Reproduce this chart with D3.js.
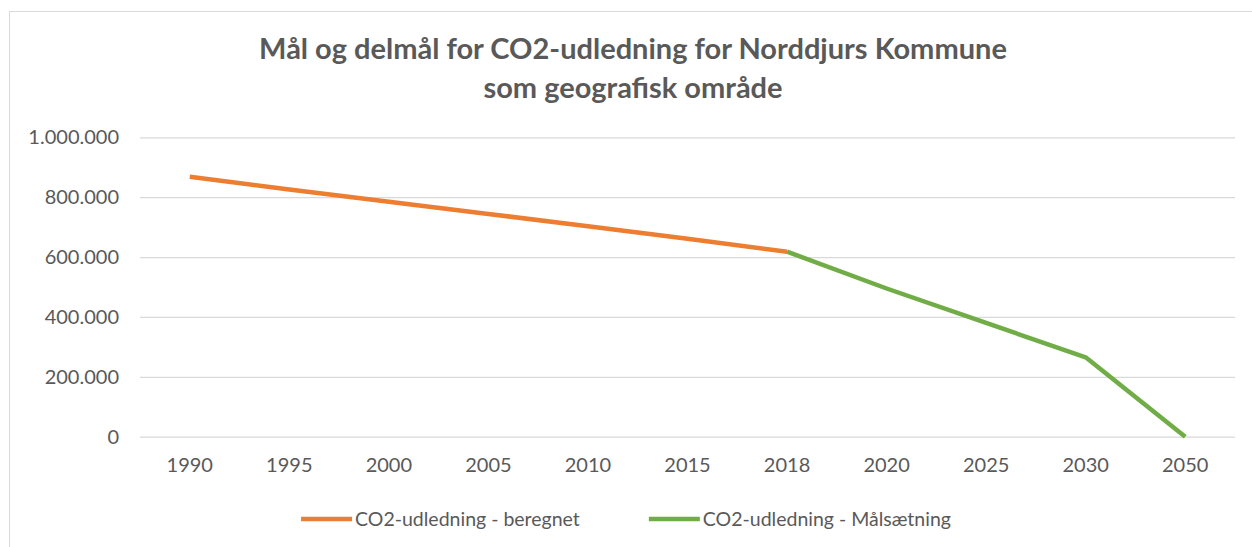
<!DOCTYPE html>
<html>
<head>
<meta charset="utf-8">
<script src="https://cdn.jsdelivr.net/npm/d3@7"></script>
<style>
  body { margin: 0; background: #fff; }
  svg { display: block; font-family: Lato, "Open Sans", sans-serif; }
</style>
</head>
<body>
<script>
// data
const years = ["1990", "1995", "2000", "2005", "2010", "2015", "2018", "2020", "2025", "2030", "2050"];
const beregnet = [868000, 826000, 785000, 744000, 703000, 661000, 618000, null, null, null, null];
const maalsaetning = [null, null, null, null, null, null, 618000, 495000, 380000, 265000, 0];
const yTicks = [0, 200000, 400000, 600000, 800000, 1000000];
const titleLines = ["Mål og delmål for CO2-udledning for Norddjurs Kommune", "som geografisk område"];
const seriesNames = ["CO2-udledning - beregnet", "CO2-udledning - Målsætning"];

const W = 1252, H = 547;
const plotLeft = 140, plotRight = 1235, plotTop = 137.3, plotBottom = 436.7;

let svg = d3.select("body").append("svg")
    .attr("width", W)
    .attr("height", H);

// chart frame (only left and top edges are inside the picture)
svg.append("rect")
    .attr("x", 9.5).attr("y", 11.5)
    .attr("width", 1300).attr("height", 600)
    .attr("fill", "none")
    .attr("stroke", "#d9d9d9");

// title
svg.append("text")
    .attr("text-anchor", "middle")
    .attr("font-weight", "bold")
    .attr("font-size", 29)
    .attr("fill", "#595959")
    .selectAll("tspan")
    .data(titleLines)
    .enter()
    .append("tspan")
    .attr("x", 633)
    .attr("y", (d, i) => 59 + i * 39)
    .text(d => d);

let x = d3.scaleBand().domain(years).range([plotLeft, plotRight]);
let y = d3.scaleLinear().domain([0, 1000000]).range([plotBottom, plotTop]);

const fmt = d3.formatLocale({ decimal: ",", thousands: ".", grouping: [3], currency: ["", " kr"] }).format(",d");

// gridlines + y labels
let yAxis = svg.append("g")
    .attr("transform", `translate(${plotLeft},0)`)
    .call(d3.axisLeft(y).tickValues(yTicks).tickFormat(fmt).tickSize(-(plotRight - plotLeft)).tickPadding(21));
yAxis.select(".domain").remove();
yAxis.selectAll(".tick line").attr("stroke", "#d9d9d9").attr("stroke-width", 1.2);
yAxis.selectAll(".tick text")
    .attr("fill", "#595959")
    .attr("font-size", 20)
    .attr("font-family", "Lato, sans-serif");

// x labels
let xAxis = svg.append("g")
    .attr("transform", `translate(0,${plotBottom})`)
    .call(d3.axisBottom(x).tickSize(0).tickPadding(21));
xAxis.select(".domain").remove();
xAxis.selectAll(".tick text")
    .attr("fill", "#595959")
    .attr("font-size", 20)
    .attr("font-family", "Lato, sans-serif");

// lines
const colors = ["#ED7D31", "#70AD47"];
let line = d3.line()
    .defined(d => d.v != null)
    .x(d => x(d.year) + x.bandwidth() / 2)
    .y(d => y(d.v));

[beregnet, maalsaetning].forEach((vals, i) => {
  svg.append("path")
      .datum(years.map((yr, j) => ({ year: yr, v: vals[j] })))
      .attr("fill", "none")
      .attr("stroke", colors[i])
      .attr("stroke-width", 4.5)
      .attr("stroke-linejoin", "round")
      .attr("d", line);
});

// legend, centred under the plot
let legendWrap = svg.append("g");
let legend = legendWrap.selectAll(".legend")
    .data(seriesNames)
    .enter()
    .append("g")
    .attr("class", "legend");
legend.append("line")
    .attr("x1", 0).attr("x2", 51)
    .attr("stroke", (d, i) => colors[i])
    .attr("stroke-width", 4.5);
legend.append("text")
    .attr("x", 54)
    .attr("dy", "0.35em")
    .attr("fill", "#595959")
    .attr("font-size", 19.5)
    .text(d => d);

let offset = 0;
legend.each(function() {
  let g = d3.select(this);
  g.attr("transform", `translate(${offset},519)`);
  offset += 54 + g.select("text").node().getComputedTextLength() + 69;
});
legendWrap.attr("transform", `translate(${626 - (offset - 69) / 2},0)`);
</script>
</body>
</html>
